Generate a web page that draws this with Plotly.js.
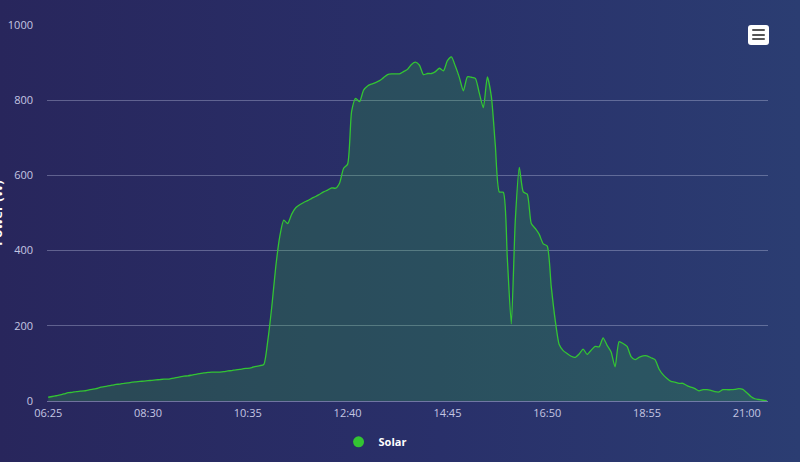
<!DOCTYPE html>
<html>
<head>
<meta charset="utf-8">
<script src="https://cdn.plot.ly/plotly-3.0.1.min.js"></script>
<style>
  html, body { margin:0; padding:0; width:800px; height:462px; overflow:hidden;
    background: linear-gradient(90deg, #28265c 0%, #29306a 55%, #2b3d72 100%); }
  #chart { width:800px; height:462px; position:absolute; left:0; top:0; }
  #menu { position:absolute; left:748px; top:25px; width:21px; height:20px; background:#ffffff;
    border-radius:3px; box-sizing:border-box; padding:4px 4px; }
  #menu div { height:2px; background:#555; margin-bottom:2.5px; border-radius:1px; }
</style>
</head>
<body>
<div id="chart"></div>
<div id="menu"><div></div><div></div><div></div></div>
<script>
// Start time and sampling step of the series (every 5 minutes from 06:25)
const startMinutes = 6 * 60 + 25;
const stepMinutes = 5;

// Solar power (W), one reading per 5 minutes, 06:25 .. 21:25
const solarValues = [
  10, 12, 14, 16, 19, 22, 23, 25, 26, 27,
  29, 31, 33, 36, 38, 40, 42, 44, 45, 47,
  48, 50, 51, 52, 53, 54, 55, 56, 57, 58,
  58, 60, 62, 64, 66, 67, 69, 71, 73, 75,
  76, 77, 77, 77, 78, 80, 81, 83, 84, 86,
  87, 89, 92, 94, 97, 160, 250, 357, 437, 481,
  472, 497, 514, 522, 528, 533, 539, 544, 550, 556,
  561, 567, 566, 580, 619, 630, 770, 805, 796, 827,
  838, 843, 847, 852, 860, 868, 870, 870, 870, 876,
  882, 895, 901, 893, 868, 871, 871, 876, 885, 878,
  905, 915, 890, 860, 825, 862, 861, 858, 818, 780,
  862, 810, 680, 556, 555, 380, 205, 480, 621, 556,
  550, 472, 459, 443, 418, 412, 305, 215, 150, 134,
  126, 119, 116, 125, 138, 124, 135, 145, 144, 168,
  148, 130, 91, 158, 153, 145, 118, 110, 116, 120,
  120, 115, 110, 85, 70, 60, 52, 50, 47, 47,
  41, 37, 33, 27, 30, 30, 28, 25, 24, 30,
  30, 30, 31, 33, 31, 22, 12, 6, 4, 2,
  1
];

// X tick positions (sample index) and labels
const xTickIndex = [0, 25, 50, 75, 100, 125, 150, 175];
const xTickLabels = ["06:25", "08:30", "10:35", "12:40", "14:45", "16:50", "18:55", "21:00"];
const yTickValues = [0, 200, 400, 600, 800, 1000];

const seriesName = "Solar";
const yTitle = "Power (W)";

function pad(n) { return (n < 10 ? "0" : "") + n; }
const timeLabels = solarValues.map((v, i) => {
  const m = startMinutes + i * stepMinutes;
  return pad(Math.floor(m / 60)) + ":" + pad(m % 60);
});
const xIndex = solarValues.map((v, i) => i);

const green = "#33c433";
const traces = [
  {
    x: xIndex, y: solarValues, text: timeLabels,
    type: "scatter", mode: "lines",
    line: { color: green, width: 1.3, shape: "spline", smoothing: 0.6 },
    fill: "tozeroy", fillcolor: "rgba(50,205,50,0.2)",
    hovertemplate: "%{text}<br>%{y} W<extra>" + seriesName + "</extra>",
    showlegend: false
  },
  {
    x: [null], y: [null], type: "scatter", mode: "markers", name: seriesName,
    marker: { color: green, size: 11, symbol: "circle" },
    showlegend: true
  }
];

const layout = {
  width: 800, height: 462,
  margin: { l: 47, r: 32, t: 25, b: 61, autoexpand: false },
  paper_bgcolor: "rgba(0,0,0,0)",
  plot_bgcolor: "rgba(0,0,0,0)",
  font: { family: "Open Sans, sans-serif", color: "#c4c6e2", size: 11 },
  showlegend: true,
  legend: {
    orientation: "h", x: 0.455, xanchor: "center", y: -0.07, yanchor: "top",
    font: { color: "#ffffff", size: 11, family: "Open Sans, sans-serif", weight: "bold" },
    bgcolor: "rgba(0,0,0,0)", itemwidth: 20
  },
  xaxis: {
    type: "linear", range: [-0.3, 180.3],
    tickmode: "array", tickvals: xTickIndex, ticktext: xTickLabels,
    showgrid: false, zeroline: false, showline: false,
    ticks: "", ticklabelstandoff: 4,
    tickfont: { size: 11, color: "#c4c6e2" },
    fixedrange: true
  },
  yaxis: {
    range: [0, 1000], tickmode: "array", tickvals: yTickValues,
    showgrid: true, gridcolor: "rgba(200,205,235,0.35)", gridwidth: 1,
    zeroline: true, zerolinecolor: "rgba(200,205,235,0.45)", zerolinewidth: 1,
    showline: false, ticks: "", ticklabelstandoff: 13,
    tickfont: { size: 11, color: "#c4c6e2" },
    fixedrange: true
  },
  annotations: [
    {
      text: "<b>" + yTitle + "</b>", xref: "paper", yref: "paper",
      x: 0, y: 0.5, xanchor: "center", yanchor: "middle",
      xshift: -50, textangle: -90, showarrow: false,
      font: { color: "#ffffff", size: 13, family: "Open Sans, sans-serif" }
    }
  ]
};

Plotly.newPlot("chart", traces, layout, { displayModeBar: false, responsive: false });
</script>
</body>
</html>
